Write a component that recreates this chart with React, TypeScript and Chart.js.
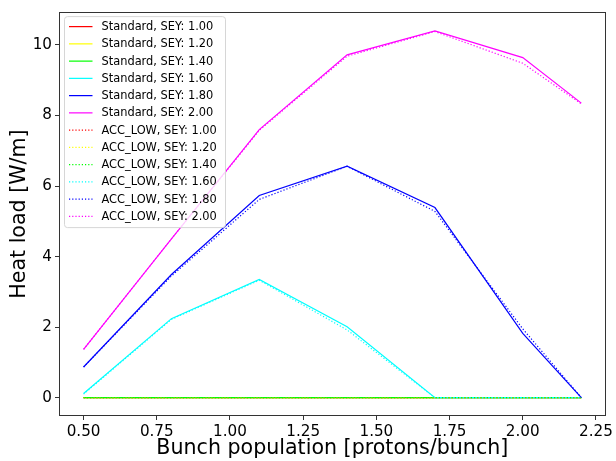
import { useEffect, useRef } from 'react';
import { Chart, registerables } from 'chart.js';
Chart.register(...registerables);

const bunchPopulation = [0.5, 0.8, 1.1, 1.4, 1.7, 2.0, 2.2];
const seyLabels = ['1.00', '1.20', '1.40', '1.60', '1.80', '2.00'];
const seyColors = ['#ff0000', '#ffff00', '#00ff00', '#00ffff', '#0000ff', '#ff00ff'];

const standard100 = [0, 0, 0, 0, 0, 0, 0];
const standard120 = [0, 0, 0, 0, 0, 0, 0];
const standard140 = [0, 0, 0, 0, 0, 0, 0];
const standard160 = [0.12, 2.24, 3.35, 2.01, 0, 0, 0];
const standard180 = [0.87, 3.49, 5.73, 6.56, 5.39, 1.82, 0];
const standard200 = [1.37, 4.5, 7.6, 9.72, 10.4, 9.64, 8.35];

const accLow100 = [0, 0, 0, 0, 0, 0, 0];
const accLow120 = [0, 0, 0, 0, 0, 0, 0];
const accLow140 = [0, 0, 0, 0, 0, 0, 0];
const accLow160 = [0.1, 2.22, 3.33, 1.92, 0, 0, 0];
const accLow180 = [0.87, 3.45, 5.62, 6.56, 5.28, 1.95, 0];
const accLow200 = [1.37, 4.5, 7.58, 9.68, 10.38, 9.48, 8.33];

const standardSeries = [standard100, standard120, standard140, standard160, standard180, standard200];
const accLowSeries = [accLow100, accLow120, accLow140, accLow160, accLow180, accLow200];

const xTicks = [0.5, 0.75, 1.0, 1.25, 1.5, 1.75, 2.0, 2.25];
const yTicks = [0, 2, 4, 6, 8, 10];

const FONT = 'DejaVu Sans';

const framePlugin = {
  id: 'frame',
  afterDatasetsDraw(chart: any) {
    const { ctx, chartArea } = chart;
    ctx.save();
    ctx.strokeStyle = '#333';
    ctx.lineWidth = 1;
    ctx.strokeRect(Math.round(chartArea.left) + 0.5, Math.round(chartArea.top) + 0.5,
      Math.round(chartArea.right - chartArea.left) - 1, Math.round(chartArea.bottom - chartArea.top) - 1);
    ctx.restore();
  },
};

const legendPlugin = {
  id: 'mplLegend',
  afterDraw(chart: any) {
    const { ctx, chartArea } = chart;
    const ds = chart.data.datasets;
    const x0 = chartArea.left + 5.5;
    const y0 = chartArea.top + 4.5;
    const w = 161;
    const h = 211;
    const rowH = 17.25;
    ctx.save();
    ctx.beginPath();
    const r = 3;
    ctx.moveTo(x0 + r, y0);
    ctx.arcTo(x0 + w, y0, x0 + w, y0 + h, r);
    ctx.arcTo(x0 + w, y0 + h, x0, y0 + h, r);
    ctx.arcTo(x0, y0 + h, x0, y0, r);
    ctx.arcTo(x0, y0, x0 + w, y0, r);
    ctx.closePath();
    ctx.fillStyle = 'rgba(255,255,255,0.8)';
    ctx.fill();
    ctx.strokeStyle = '#d6d6d6';
    ctx.lineWidth = 1;
    ctx.stroke();
    ctx.font = `11.4px "${FONT}"`;
    ctx.textBaseline = 'middle';
    ctx.textAlign = 'left';
    ds.forEach((d: any, i: number) => {
      const y = y0 + 10 + i * rowH;
      ctx.beginPath();
      ctx.strokeStyle = d.borderColor;
      ctx.lineWidth = d.borderWidth;
      ctx.setLineDash(d.borderDash || []);
      ctx.moveTo(x0 + 4.5, y);
      ctx.lineTo(x0 + 28, y);
      ctx.stroke();
      ctx.setLineDash([]);
      ctx.fillStyle = '#000';
      ctx.fillText(d.label, x0 + 37, y + 0.5);
    });
    ctx.restore();
  },
};

export default function App() {
  const ref = useRef<HTMLCanvasElement>(null);
  useEffect(() => {
    document.body.style.margin = '0';
    const datasets: any[] = [];
    standardSeries.forEach((s, i) => {
      datasets.push({
        label: `Standard, SEY: ${seyLabels[i]}`,
        data: s.map((v, j) => ({ x: bunchPopulation[j], y: v })),
        borderColor: seyColors[i],
        backgroundColor: seyColors[i],
        borderWidth: 1.2,
        pointRadius: 0,
        fill: false,
        tension: 0,
      });
    });
    accLowSeries.forEach((s, i) => {
      datasets.push({
        label: `ACC_LOW, SEY: ${seyLabels[i]}`,
        data: s.map((v, j) => ({ x: bunchPopulation[j], y: v })),
        borderColor: seyColors[i],
        backgroundColor: seyColors[i],
        borderWidth: 1.2,
        borderDash: [1.2, 2],
        pointRadius: 0,
        fill: false,
        tension: 0,
      });
    });
    datasets.forEach((d, i) => { d.order = datasets.length - i; });

    const chart = new Chart(ref.current!, {
      type: 'line',
      data: { datasets },
      plugins: [framePlugin, legendPlugin],
      options: {
        animation: false,
        responsive: false,
        maintainAspectRatio: false,
        layout: { padding: { left: 0, top: 6, right: 7, bottom: 0 } },
        plugins: { legend: { display: false }, tooltip: { enabled: false } },
        scales: {
          x: {
            type: 'linear',
            min: 0.416,
            max: 2.283,
            afterBuildTicks: (s: any) => { s.ticks = xTicks.map((v) => ({ value: v })); },
            afterFit: (s: any) => { s.height = 45; },
            ticks: {
              callback: (v: any) => Number(v).toFixed(2),
              font: { family: FONT, size: 15.2 },
              color: '#000',
              padding: 3,
              maxRotation: 0,
              autoSkip: false,
            },
            grid: { display: true, drawOnChartArea: false, drawTicks: true, tickLength: 4, color: '#333' },
            border: { display: false },
            title: {
              display: true,
              text: 'Bunch population [protons/bunch]',
              font: { family: FONT, size: 20.6 },
              color: '#000',
              padding: { top: 0, bottom: 0 },
            },
          },
          y: {
            type: 'linear',
            min: -0.52,
            max: 10.93,
            afterBuildTicks: (s: any) => { s.ticks = yTicks.map((v) => ({ value: v })); },
            afterFit: (s: any) => { s.width = 59; },
            ticks: {
              callback: (v: any) => String(v),
              font: { family: FONT, size: 15.2 },
              color: '#000',
              padding: 3,
              autoSkip: false,
            },
            grid: { display: true, drawOnChartArea: false, drawTicks: true, tickLength: 4, color: '#333' },
            border: { display: false },
            title: {
              display: true,
              text: 'Heat load [W/m]',
              font: { family: FONT, size: 20.6 },
              color: '#000',
              padding: { top: 7, bottom: 0 },
            },
          },
        },
      },
    });
    return () => chart.destroy();
  }, []);
  return <canvas ref={ref} width={616} height={461} style={{ display: 'block' }} />;
}
